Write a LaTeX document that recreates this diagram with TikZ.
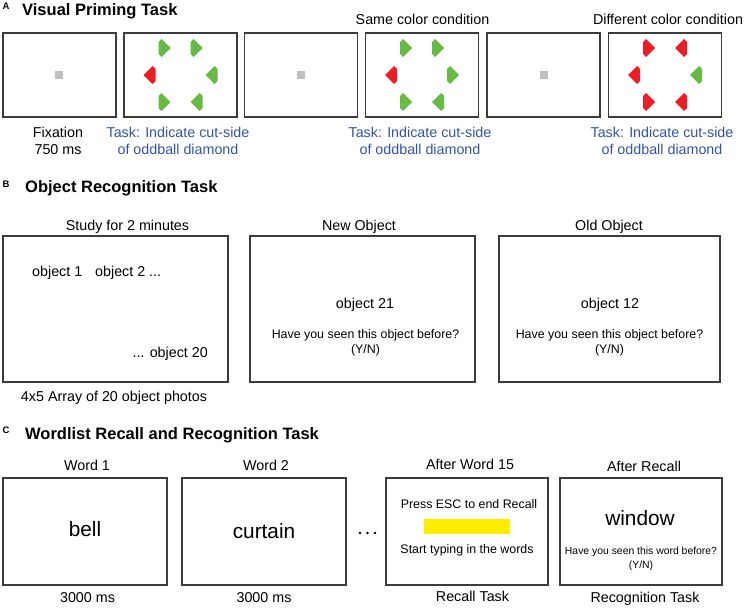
\documentclass[tikz,border=0pt]{standalone}
\usepackage{fontspec}
\setmainfont{Liberation Sans}
\usetikzlibrary{calc}
\definecolor{framegray}{RGB}{60,60,60}
\definecolor{fixgray}{RGB}{192,192,192}
\definecolor{diagreen}{RGB}{104,186,68}
\definecolor{diared}{RGB}{236,30,36}
\definecolor{taskblue}{RGB}{52,82,168}
\definecolor{recallyellow}{RGB}{255,238,0}
\def\cutdiamond[#1](#2,#3)(#4){\fill[#1] ($(#2,#3)+({6*(#4)},0)$) -- ++({-9*(#4)},-9) -- ++({-3*(#4)},3) -- ++(0,12) -- ++({3*(#4)},3) -- cycle;}
\def\fixdot(#1,#2){\fill[fixgray] ($(#1,#2)+(-4,-4)$) rectangle ++(8,8);}
\tikzset{
  scrbox/.style={draw=framegray, line width=1.1pt, inner sep=0pt, minimum width=113pt, minimum height=84pt},
  lbl/.style={font=\fontsize{14.3}{17}\selectfont, inner sep=0pt, anchor=base},
  tasklbl/.style={lbl, text=taskblue},
  inlbl/.style={font=\fontsize{12.4}{15}\selectfont, inner sep=0pt, anchor=base},
  bigword/.style={font=\fontsize{20.8}{24}\selectfont, inner sep=0pt, anchor=base},
  ptitle/.style={font=\bfseries\fontsize{16.5}{20}\selectfont, inner sep=0pt, anchor=base west},
  pletter/.style={font=\bfseries\fontsize{9.5}{11}\selectfont, inner sep=0pt, anchor=base west}
}

\begin{document}
\begin{tikzpicture}[x=1pt,y=-1pt]
  \useasboundingbox (0,0) rectangle (747,608);

  %%%%% A: Visual Priming Task %%%%%
  \node[pletter] (letA) at (2.5,9.5) {A};
  \node[ptitle] (titleA) at (22,15) {Visual Priming Task};
  \node[lbl] (same) at (422.5,24) {Same color condition};
  \node[lbl] (diff) at (668,24) {Different color condition};

  \node[scrbox] (fixA) at (59.5,75) {};
  \node[scrbox] (taskA) at (180.5,75) {};
  \node[scrbox] (fixB) at (301,75) {};
  \node[scrbox] (taskB) at (422,75) {};
  \node[scrbox] (fixC) at (543.5,75) {};
  \node[scrbox] (taskC) at (665,75) {};

  \fixdot(59,75)
  \fixdot(301,75)
  \fixdot(543.5,75)

  % first search display
  \cutdiamond[diagreen](164.5,48)(1)
  \cutdiamond[diagreen](196.5,48)(1)
  \cutdiamond[diared](149.5,75)(-1)
  \cutdiamond[diagreen](211.5,75)(-1)
  \cutdiamond[diagreen](164.5,102)(1)
  \cutdiamond[diagreen](196.5,102)(-1)

  % same color condition
  \cutdiamond[diagreen](406,48)(1)
  \cutdiamond[diagreen](438,48)(1)
  \cutdiamond[diared](391,75)(-1)
  \cutdiamond[diagreen](453,75)(1)
  \cutdiamond[diagreen](406,102)(1)
  \cutdiamond[diagreen](438,102)(-1)

  % different color condition
  \cutdiamond[diared](649,48)(1)
  \cutdiamond[diared](681,48)(-1)
  \cutdiamond[diared](634,75)(-1)
  \cutdiamond[diagreen](696,75)(-1)
  \cutdiamond[diared](649,102)(1)
  \cutdiamond[diared](681,102)(-1)

  \node[lbl] (fixname) at (58,137) {Fixation};
  \node[lbl] (fixtime) at (58,154) {750 ms};
  \node[tasklbl] (taskAa) at (178,137) {Task: Indicate cut-side};
  \node[tasklbl] (taskAb) at (178,154) {of oddball diamond};
  \node[tasklbl] (taskBa) at (420,137) {Task: Indicate cut-side};
  \node[tasklbl] (taskBb) at (420,154) {of oddball diamond};
  \node[tasklbl] (taskCa) at (662,137) {Task: Indicate cut-side};
  \node[tasklbl] (taskCb) at (662,154) {of oddball diamond};

  %%%%% B: Object Recognition Task %%%%%
  \node[pletter] (letB) at (2.5,187) {B};
  \node[ptitle] (titleB) at (25,192) {Object Recognition Task};

  \node[lbl] (study) at (127.5,230) {Study for 2 minutes};
  \node[lbl] (newobj) at (359,230) {New Object};
  \node[lbl] (oldobj) at (609,230) {Old Object};

  \node[scrbox, minimum width=225pt, minimum height=146pt] (array) at (115.5,309) {};
  \node[scrbox, minimum width=225pt, minimum height=146pt] (newscr) at (362.5,309) {};
  \node[scrbox, minimum width=221pt, minimum height=146pt] (oldscr) at (609.5,309) {};

  \node[lbl, anchor=base west] (obja) at (32,276) {object 1};
  \node[lbl, anchor=base west] (objb) at (95,276) {object 2 ...};
  \node[lbl, anchor=base east] (objz) at (208,357) {... object 20};
  \node[lbl] (arrayname) at (114,401) {4x5 Array of 20 object photos};

  \node[lbl] (obj21) at (365,308) {object 21};
  \node[inlbl] (askA) at (365.5,338) {Have you seen this object before?};
  \node[inlbl] (ynA) at (365.5,353) {(Y/N)};
  \node[lbl] (obj12) at (610,308) {object 12};
  \node[inlbl] (askB) at (609.5,338) {Have you seen this object before?};
  \node[inlbl] (ynB) at (609.5,353) {(Y/N)};

  %%%%% C: Wordlist Recall and Recognition Task %%%%%
  \node[pletter] (letC) at (2.5,433) {C};
  \node[ptitle] (titleC) at (25,439) {Wordlist Recall and Recognition Task};

  \node[lbl] (wone) at (87,470) {Word 1};
  \node[lbl] (wtwo) at (266,470) {Word 2};
  \node[lbl] (wlast) at (470,469) {After Word 15};
  \node[lbl] (afterrec) at (644,471) {After Recall};

  \node[scrbox, minimum width=164pt, minimum height=107pt] (bellscr) at (85,531.5) {};
  \node[scrbox, minimum width=164pt, minimum height=107pt] (curtscr) at (264,531.5) {};
  \node[scrbox, minimum width=162pt, minimum height=107pt] (recscr) at (467,531.5) {};
  \node[scrbox, minimum width=162pt, minimum height=107pt] (recogscr) at (641,531.5) {};

  \node[bigword] (bell) at (85,536) {bell};
  \node[bigword] (curtain) at (264,538) {curtain};
  \fill (360,533) circle (1.4) (367.5,533) circle (1.4) (375,533) circle (1.4);

  \node[inlbl] (esc) at (469,508) {Press ESC to end Recall};
  \fill[recallyellow] (424,519) rectangle (510,534);
  \node[inlbl] (typing) at (467,553) {Start typing in the words};

  \node[bigword] (window) at (640,525) {window};
  \node[font=\fontsize{10.4}{12}\selectfont, inner sep=0pt, anchor=base] (askw) at (641,554) {Have you seen this word before?};
  \node[font=\fontsize{10.4}{12}\selectfont, inner sep=0pt, anchor=base] (ynw) at (641,568) {(Y/N)};

  \node[lbl] (tone) at (87.5,602) {3000 ms};
  \node[lbl] (ttwo) at (264,602) {3000 ms};
  \node[lbl] (recname) at (472.5,601) {Recall Task};
  \node[lbl] (recogname) at (645,602) {Recognition Task};
\end{tikzpicture}
\end{document}
